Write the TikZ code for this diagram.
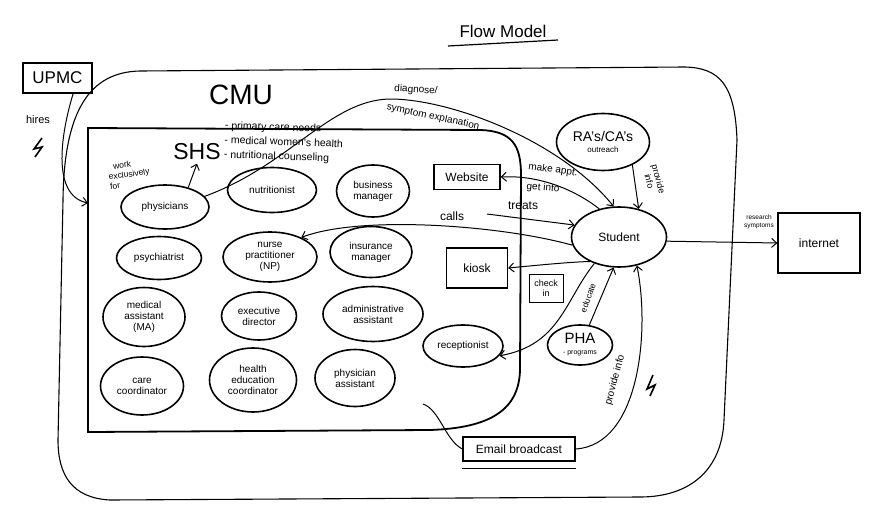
\documentclass[tikz,border=0pt]{standalone}
\usepackage{fontspec}
\setmainfont{Liberation Sans}
\usetikzlibrary{arrows.meta,shapes.geometric,calc}
\begin{document}
\begin{tikzpicture}[x=1pt,y=-1pt,
  role/.style={ellipse, draw, line width=1.6pt, inner sep=0pt, align=center, font=\fontsize{10}{11}\selectfont},
  boxn/.style={draw, line width=1.3pt, inner sep=0pt, align=center},
  flow/.style={line width=1pt, -{Straight Barb[length=5pt,width=9pt]}},
  plain/.style={line width=1pt},
  lbl/.style={inner sep=0.5pt, align=center, font=\fontsize{10}{10.5}\selectfont},
  bolt/.style={line width=1.6pt, line join=miter}]
\useasboundingbox (0,0) rectangle (886,527);

% title
\node[font=\fontsize{17}{17}\selectfont] (title) at (503,31) {Flow Model};
\draw[line width=1.2pt] (448,46) -- (558,40);

% containers
\draw[line width=1.1pt] (140,71) -- (685,67) .. controls (720,68) and (735,85) .. (737,140)
  -- (724,420) .. controls (722,470) and (690,497) .. (640,497)
  -- (110,500) .. controls (72,498) and (58,475) .. (58,440)
  -- (63,200) .. controls (64,110) and (90,72) .. (140,71) -- cycle;
\node[font=\fontsize{28}{28}\selectfont] (cmu) at (241,95) {CMU};
\draw[line width=1.8pt] (88,432) -- (88,128) -- (480,130)
  .. controls (512,131) and (521,145) .. (521,175) -- (520,370)
  .. controls (519,410) and (490,428) .. (430,430) -- cycle;
\coordinate (shsin) at (88,203);
\coordinate (treatsfrom) at (487,214);
\coordinate (emailsrc) at (423,404);

\node[font=\fontsize{23}{23}\selectfont] (shs) at (197,152) {SHS};
\node[anchor=north west, align=left, font=\fontsize{10.5}{14.5}\selectfont, rotate=-2, inner sep=0pt] (notes) at (225,121)
  {- primary care needs\\- medical women's health\\- nutritional counseling};
\node[lbl, align=left, rotate=8, anchor=west, font=\fontsize{8.5}{10}\selectfont] (work) at (108,177)
  {\hspace*{6pt}work\\exclusively\\for};

% UPMC
\node[boxn, minimum width=69pt, minimum height=30pt, font=\fontsize{17}{17}\selectfont] (upmc) at (57.5,78) {UPMC};
\node[lbl, font=\fontsize{11}{11}\selectfont] (hires) at (38,120) {hires};
\draw[bolt] (42,138) -- (34,149) -- (42,147) -- (35,157);

% SHS roles
\node[role, minimum width=88pt, minimum height=44pt] (phys) at (165,207) {physicians};
\node[role, minimum width=89pt, minimum height=45pt] (nutr) at (272,190) {nutritionist};
\node[role, minimum width=73pt, minimum height=52pt] (bizm) at (373,191) {business\\manager};
\node[role, minimum width=85pt, minimum height=43pt] (psych) at (159,258) {psychiatrist};
\node[role, minimum width=94pt, minimum height=50pt] (np) at (270,257) {nurse\\practitioner\\(NP)};
\node[role, minimum width=82pt, minimum height=51pt] (insm) at (371,252) {insurance\\manager};
\node[role, minimum width=82pt, minimum height=59pt] (ma) at (144,317) {medical\\assistant\\(MA)};
\node[role, minimum width=75pt, minimum height=48pt] (exec) at (259,316) {executive\\director};
\node[role, minimum width=100pt, minimum height=55pt] (admin) at (373,314) {administrative\\assistant};
\node[role, minimum width=83pt, minimum height=58pt] (care) at (142,386) {care\\coordinator};
\node[role, minimum width=87pt, minimum height=64pt] (hec) at (253,380) {health\\education\\coordinator};
\node[role, minimum width=80pt, minimum height=57pt] (pa) at (355,378) {physician\\assistant};

% other nodes
\node[boxn, minimum width=66pt, minimum height=25pt, font=\fontsize{12}{12}\selectfont] (web) at (467,177) {Website};
\node[boxn, minimum width=61pt, minimum height=40pt, font=\fontsize{12}{12}\selectfont] (kiosk) at (477,268) {kiosk};
\node[role, minimum width=80pt, minimum height=42pt] (recep) at (463,346) {receptionist};
\node[role, minimum width=95pt, minimum height=60pt, font=\fontsize{12}{12}\selectfont] (student) at (619,237) {Student};
\node[role, minimum width=93pt, minimum height=57pt] (ra) at (603,142)
  {{\fontsize{14}{15}\selectfont RA's/CA's}\\{\fontsize{8}{9}\selectfont outreach}};
\node[role, minimum width=65pt, minimum height=40pt] (pha) at (580,345)
  {{\fontsize{15}{15}\selectfont PHA}\\{\fontsize{7}{8}\selectfont - programs}};
\node[boxn, minimum width=82pt, minimum height=60pt, font=\fontsize{12}{12}\selectfont] (net) at (819,243) {internet};
\node[boxn, minimum width=112pt, minimum height=24pt, font=\fontsize{12}{12}\selectfont] (email) at (519,449) {Email broadcast};
\draw[line width=1.3pt] ($(email.south west)+(0,7)$) -- ($(email.south east)+(0,7)$);

% connectors
\draw[flow] (upmc.-45) .. controls (62,130) and (50,195) .. (shsin);
\draw[flow] (phys.40) -- (shs.south);
\draw[flow] (phys.15) .. controls (290,165) and (330,100) .. (390,99)
  .. controls (450,99) and (560,140) .. (student.100);
\node[lbl, rotate=-3] (diag) at (416,90) {diagnose/};
\node[lbl, rotate=-12] (sympt) at (433,117) {symptom explanation};

\draw[flow] (student.125) .. controls (575,190) and (540,175) .. (web.east);
\node[lbl, rotate=-8] (appt) at (553,170) {make appt.};
\node[lbl, rotate=-5] (getinfo) at (543,188) {get info};

\draw[flow] (treatsfrom) -- (student.165);
\node[lbl, font=\fontsize{12}{12}\selectfont] (treats) at (523,206) {treats};

\draw[flow] (student.190) .. controls (500,225) and (360,215) .. (np.32);
\node[lbl, font=\fontsize{12}{12}\selectfont] (calls) at (452,216) {calls};

\draw[flow] (ra.-38) -- (student.55);
\node[lbl, rotate=-75, font=\fontsize{9}{9.5}\selectfont] (prov1) at (654,180) {provide\\info};

\draw[flow] (student.-5) -- (net.west);
\node[lbl, font=\fontsize{6.5}{7.5}\selectfont] (research) at (759,222) {research\\symptoms};

\draw[flow] (student.-140) .. controls (570,262) and (540,265) .. (kiosk.east);

\draw[flow] (student.-133) .. controls (565,300) and (560,345) .. (recep.-15);
\node[boxn, fill=white, line width=1pt, font=\fontsize{9}{10}\selectfont, minimum width=34pt, minimum height=28pt] (checkin) at (546,288) {check\\in};

\draw[flow] (pha.65) -- (student.-100);
\node[lbl, rotate=70, font=\fontsize{8.5}{9}\selectfont] (educ) at (588,298) {educate};

\draw[flow] (email.east) .. controls (640,445) and (650,330) .. (student.-58);
\node[lbl, rotate=75, font=\fontsize{10}{11}\selectfont] (prov2) at (615,380) {provide info};
\draw[bolt] (653,375) -- (647,389) -- (655,385) -- (650,396);

\draw[plain] (emailsrc) .. controls (440,410) and (445,440) .. (email.west);
\end{tikzpicture}
\end{document}
